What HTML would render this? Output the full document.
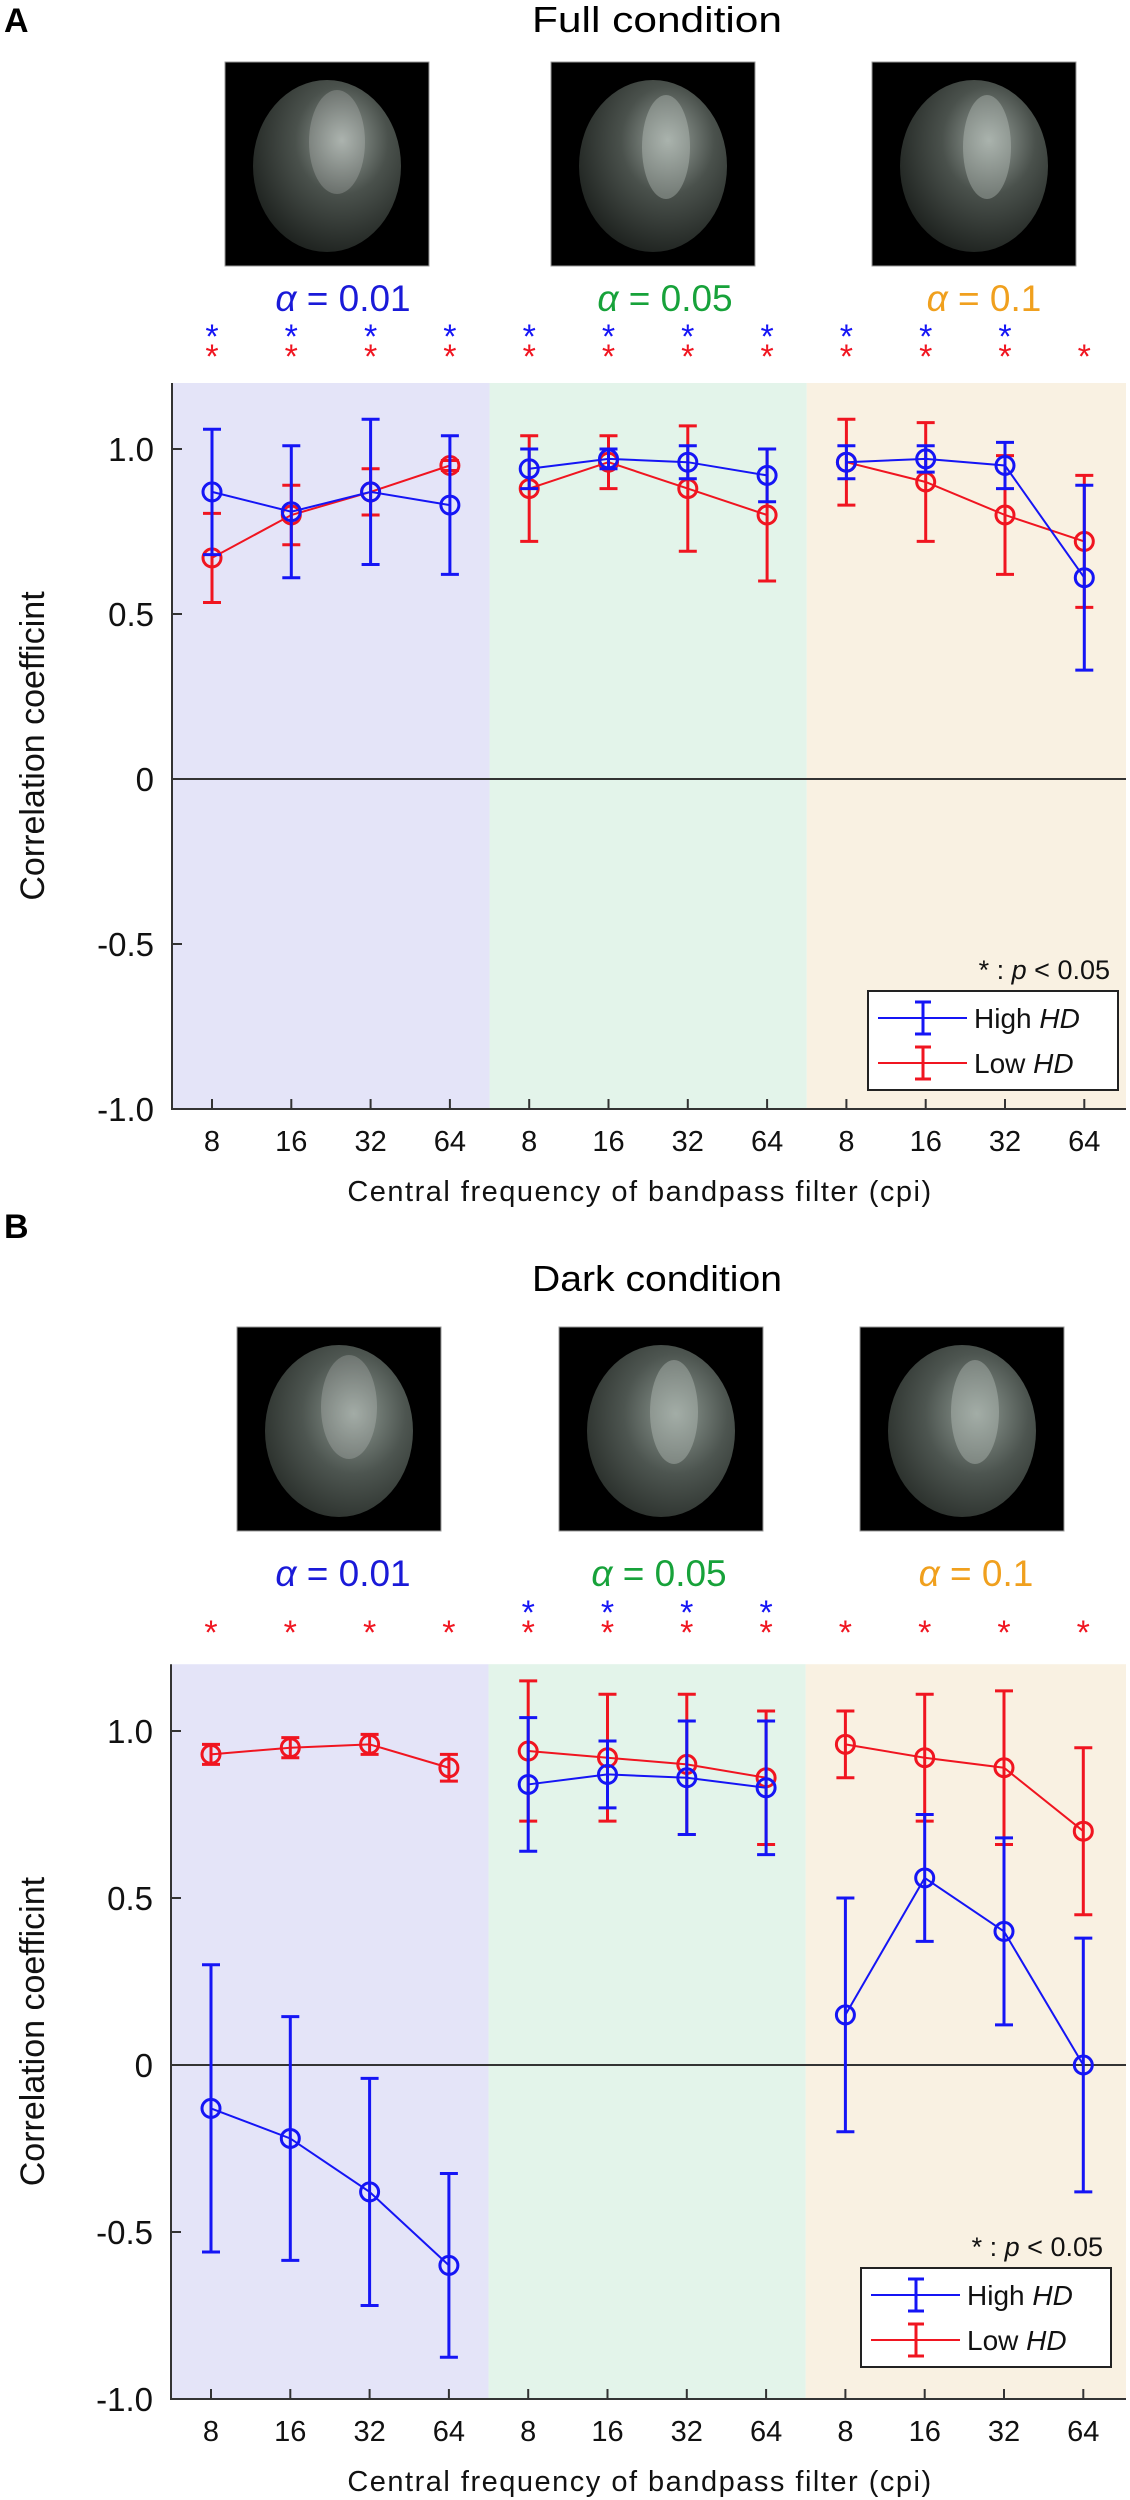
<!DOCTYPE html>
<html><head><meta charset="utf-8"><style>
html,body{margin:0;padding:0;background:#fff;}
svg{display:block;font-family:"Liberation Sans",sans-serif;}
</style></head><body>
<svg id="fig" width="1130" height="2500" viewBox="0 0 1130 2500" xmlns="http://www.w3.org/2000/svg">
<defs>
<radialGradient id="eggA" cx="0.6" cy="0.35" r="0.7"><stop offset="0" stop-color="#9aa39d"/><stop offset="0.45" stop-color="#4a514c"/><stop offset="1" stop-color="#1c201d"/></radialGradient>
<radialGradient id="eggB" cx="0.6" cy="0.4" r="0.7"><stop offset="0" stop-color="#8f9a93"/><stop offset="0.5" stop-color="#4d5550"/><stop offset="1" stop-color="#262b27"/></radialGradient>
</defs>
</svg>
<script>
// ---- data ----
const categories = ["8","16","32","64","8","16","32","64","8","16","32","64"];
const yTicks = [1.0, 0.5, 0, -0.5, -1.0];
const yTickLabels = ["1.0","0.5","0","-0.5","-1.0"];
const alphaLabels = ["0.01","0.05","0.1"];
const fullHigh = [0.87,0.81,0.87,0.83, 0.94,0.97,0.96,0.92, 0.96,0.97,0.95,0.61];
const fullHighErr = [0.19,0.20,0.22,0.21, 0.06,0.03,0.05,0.08, 0.05,0.04,0.07,0.28];
const fullLow = [0.67,0.80,0.87,0.95, 0.88,0.96,0.88,0.80, 0.96,0.90,0.80,0.72];
const fullLowErr = [0.135,0.09,0.07,0.015, 0.16,0.08,0.19,0.20, 0.13,0.18,0.18,0.20];
const fullSigHigh = [1,1,1,1, 1,1,1,1, 1,1,1,0];
const fullSigLow = [1,1,1,1, 1,1,1,1, 1,1,1,1];
const darkHigh = [-0.13,-0.22,-0.38,-0.60, 0.84,0.87,0.86,0.83, 0.15,0.56,0.40,0.00];
const darkHighErr = [0.43,0.365,0.34,0.275, 0.20,0.10,0.17,0.20, 0.35,0.19,0.28,0.38];
const darkLow = [0.93,0.95,0.96,0.89, 0.94,0.92,0.90,0.86, 0.96,0.92,0.89,0.70];
const darkLowErr = [0.03,0.03,0.03,0.04, 0.21,0.19,0.21,0.20, 0.10,0.19,0.23,0.25];
const darkSigHigh = [0,0,0,0, 1,1,1,1, 0,0,0,0];
const darkSigLow = [1,1,1,1, 1,1,1,1, 1,1,1,1];

const NS = "http://www.w3.org/2000/svg";
const svg = document.getElementById('fig');
function mk(tag, attrs, parent, text){
  const e = document.createElementNS(NS, tag);
  for (const k in attrs) e.setAttribute(k, attrs[k]);
  if (text !== undefined) e.textContent = text;
  (parent || svg).appendChild(e);
  return e;
}
const BLUE = "#1515f5", RED = "#f01520";
const ALPHA_COLORS = ["#1a1ad8","#17a23a","#f0a01e"];
const SHADES = ["#e4e4f8","#e3f4ea","#f9f1e2"];

function panel(cfg){
  const g = mk('g', {});
  
  
  const x0 = cfg.axisX, xr = 1126, step = 79.3, xFirst = cfg.axisX + 40;
  const xs = i => xFirst + i * step;
  const ys = v => cfg.zeroY - v * cfg.unit;
  const top = ys(1.2), bottom = ys(-1.0);

  const lbl = mk('text', {x:4, y:cfg.labelY, 'font-size':34, 'font-weight':'bold', fill:'#000'}, g, cfg.letter);
  
  
  const tt = mk('text', {x:657, y:cfg.titleY, 'font-size':36, 'text-anchor':'middle', fill:'#000', textLength:cfg.titleLen, lengthAdjust:'spacingAndGlyphs'}, g, cfg.title);
  
  

  cfg.imgX.forEach((ix, k) => {
    const ig = mk('g', {}, g);
    
    
    mk('rect', {x:ix, y:cfg.imgY, width:204, height:204, fill:'#000', stroke:'#999', 'stroke-width':1}, ig);
    mk('ellipse', {cx:ix+102, cy:cfg.imgY+104, rx:74, ry:86, fill:cfg.grad}, ig);
    if (k === 0) mk('ellipse', {cx:ix+112, cy:cfg.imgY+80, rx:28, ry:52, fill:'#ffffff', opacity:0.18}, ig);
    else mk('ellipse', {cx:ix+115, cy:cfg.imgY+85, rx:24, ry:52, fill:'#c8d0cb', opacity:0.35}, ig);
  });

  cfg.alphaX.forEach((ax, k) => {
    const t = mk('text', {x:ax, y:cfg.alphaY, 'font-size':37, 'text-anchor':'middle', fill:ALPHA_COLORS[k]}, g);
    
    
    mk('tspan', {'font-style':'italic'}, t, 'α');
    mk('tspan', {}, t, ' = ' + alphaLabels[k]);
  });

  for (let k = 0; k < 3; k++) {
    const a = k === 0 ? x0 : xs(4*k - 0.5);
    const b = k === 2 ? xr : xs(4*k + 3.5);
    const r = mk('rect', {x:a, y:top, width:b-a, height:bottom-top, fill:SHADES[k]}, g);
    
    
  }

  categories.forEach((c, i) => {
    if (cfg.sigHigh[i]) {
      const s = mk('text', {x:xs(i), y:cfg.starY1+4, 'font-size':34, 'text-anchor':'middle', fill:BLUE}, g, '*');
      
      
    }
    if (cfg.sigLow[i]) {
      const s = mk('text', {x:xs(i), y:cfg.starY2+4, 'font-size':34, 'text-anchor':'middle', fill:RED}, g, '*');
      
      
    }
  });

  const zl = mk('line', {x1:x0, x2:xr, y1:ys(0), y2:ys(0), stroke:'#333', 'stroke-width':2}, g);
  
  

  const ya = mk('line', {x1:x0, x2:x0, y1:top, y2:bottom+1, stroke:'#333', 'stroke-width':2}, g);
  
  
  const xa = mk('line', {x1:x0, x2:xr, y1:bottom, y2:bottom, stroke:'#333', 'stroke-width':2}, g);
  
  
  yTicks.forEach((v, k) => {
    mk('line', {x1:x0, x2:x0+10, y1:ys(v), y2:ys(v), stroke:'#333', 'stroke-width':2}, g);
    const t = mk('text', {x:x0-18, y:ys(v)+12, 'font-size':33, 'text-anchor':'end', fill:'#111'}, g, yTickLabels[k]);
    
    
  });
  categories.forEach((c, i) => {
    mk('line', {x1:xs(i), x2:xs(i), y1:bottom, y2:bottom-10, stroke:'#333', 'stroke-width':2}, g);
    const t = mk('text', {x:xs(i), y:bottom+42, 'font-size':29, 'text-anchor':'middle', fill:'#111'}, g, c);
    
    
  });
  const yt = mk('text', {x:0, y:0, 'font-size':34, 'text-anchor':'middle', fill:'#111', transform:`translate(44 ${(top+bottom)/2}) rotate(-90)`}, g, 'Correlation coefficint');
  
  
  const xt = mk('text', {x:640, y:bottom+92, 'font-size':29, 'text-anchor':'middle', fill:'#111', 'letter-spacing':'1.5'}, g, 'Central frequency of bandpass filter (cpi)');
  
  

  [[cfg.low, cfg.lowErr, RED, 'low-hd'], [cfg.high, cfg.highErr, BLUE, 'high-hd']].forEach(([vals, errs, col, nm]) => {
    const sg = mk('g', {}, g);
    
    
    for (let seg = 0; seg < 3; seg++) {
      const pts = [];
      for (let j = 0; j < 4; j++) { const i = seg*4 + j; pts.push(xs(i) + ',' + ys(vals[i])); }
      const pl = mk('polyline', {points:pts.join(' '), fill:'none', stroke:col, 'stroke-width':2}, sg);
      
      
    }
    vals.forEach((v, i) => {
      const x = xs(i), yh = ys(v + errs[i]), yl = ys(v - errs[i]);
      const eb = mk('path', {d:`M${x},${yh}V${yl}M${x-9},${yh}H${x+9}M${x-9},${yl}H${x+9}`, stroke:col, 'stroke-width':3, fill:'none'}, sg);
      
      
      const pt = mk('circle', {cx:x, cy:ys(v), r:9, fill:'none', stroke:col, 'stroke-width':3}, sg);
      
      
    });
  });

  const L = cfg.legend;
  const pt = mk('text', {x:L.x+L.w-8, y:L.y-12, 'font-size':27, 'text-anchor':'end', fill:'#111'}, g);
  
  
  mk('tspan', {}, pt, '* : ');
  mk('tspan', {'font-style':'italic'}, pt, 'p');
  mk('tspan', {}, pt, ' < 0.05');
  const lg = mk('g', {}, g);
  
  
  mk('rect', {x:L.x, y:L.y, width:L.w, height:L.h, fill:'#fff', stroke:'#222', 'stroke-width':2}, lg);
  [['High ', BLUE, 27], ['Low ', RED, 72]].forEach(([name, col, dy]) => {
    const e = mk('g', {}, lg);
    
    
    const yy = L.y + dy, cx = L.x + 55;
    mk('line', {x1:L.x+10, x2:L.x+99, y1:yy, y2:yy, stroke:col, 'stroke-width':2}, e);
    mk('path', {d:`M${cx},${yy-16}V${yy+16}M${cx-8},${yy-16}H${cx+8}M${cx-8},${yy+16}H${cx+8}`, stroke:col, 'stroke-width':3, fill:'none'}, e);
    const t = mk('text', {x:L.x+106, y:yy+10, 'font-size':28, fill:'#111'}, e);
    mk('tspan', {}, t, name);
    mk('tspan', {'font-style':'italic'}, t, 'HD');
  });
}

panel({name:'panel-a-full-condition', letter:'A', labelY:32, title:'Full condition', titleY:32, titleLen:250,
  imgX:[225,551,872], imgY:62, grad:'url(#eggA)', alphaX:[343,665,984], alphaY:311, starY1:344, starY2:364,
  axisX:172, zeroY:779, unit:330,
  high:fullHigh, highErr:fullHighErr, low:fullLow, lowErr:fullLowErr, sigHigh:fullSigHigh, sigLow:fullSigLow,
  legend:{x:868, y:991, w:250, h:99}});
panel({name:'panel-b-dark-condition', letter:'B', labelY:1238, title:'Dark condition', titleY:1291, titleLen:250,
  imgX:[237,559,860], imgY:1327, grad:'url(#eggB)', alphaX:[343,659,976], alphaY:1586, starY1:1620, starY2:1640,
  axisX:171, zeroY:2065, unit:334,
  high:darkHigh, highErr:darkHighErr, low:darkLow, lowErr:darkLowErr, sigHigh:darkSigHigh, sigLow:darkSigLow,
  legend:{x:861, y:2268, w:250, h:99}});
</script>
</body></html>
